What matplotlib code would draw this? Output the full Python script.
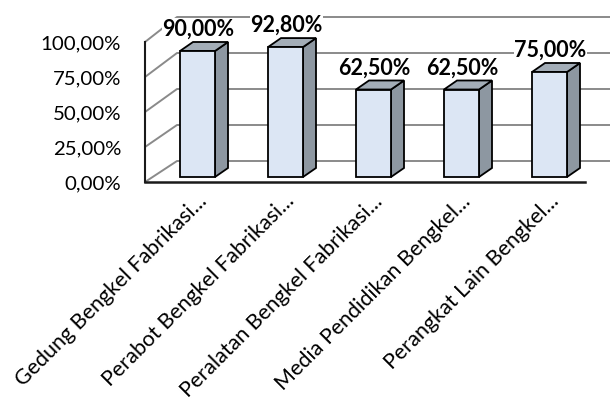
import matplotlib
matplotlib.use("Agg")
import matplotlib.pyplot as plt
from matplotlib.patches import Polygon, Rectangle

categories = ["Gedung Bengkel Fabrikasi...", "Perabot Bengkel Fabrikasi...",
              "Peralatan Bengkel Fabrikasi...", "Media Pendidikan Bengkel...",
              "Perangkat Lain Bengkel..."]
values = [90.00, 92.80, 62.50, 62.50, 75.00]
value_labels = ["90,00%", "92,80%", "62,50%", "62,50%", "75,00%"]
ticks = [0, 25, 50, 75, 100]
tick_labels = ["0,00%", "25,00%", "50,00%", "75,00%", "100,00%"]

W, H = 612, 403
fig = plt.figure(figsize=(W / 100, H / 100), dpi=100)
ax = fig.add_axes([0, 0, 1, 1])

# pixel <-> data mapping (x: category index, y: percent)
PX_X = 88.0      # pixels per category
PX_V = 1.4       # pixels per percent
X0 = 197.5       # pixel x of category 0 centre
V0 = 177.0       # pixel y (from top) of 0 %
def X(px):
    return (px - X0) / PX_X
def V(py):
    return (V0 - py) / PX_V

ax.set_xlim(X(0), X(W))
ax.set_ylim(V(H), V(0))
ax.axis("off")

FONT = ["Lato", "DejaVu Sans"]
grid_c = "#8a8a8a"

# walls / gridlines
front_x, back_x, right_x = X(145), X(177), X(610)
for t in ticks:
    fv = V(182) + t * (35 / 25) / PX_V
    bv = V(161) + t * (36 / 25) / PX_V
    ax.plot([front_x, back_x, right_x], [fv, bv, bv], color=grid_c, lw=1.4,
            zorder=1, solid_capstyle="butt")
# floor front edge and left wall front edge
ax.plot([front_x, X(585)], [V(182), V(182)], color="#1a1a1a", lw=1.8, zorder=2)
ax.plot([front_x, front_x], [V(182), V(182) + 100 * (35 / 25) / PX_V],
        color="#1a1a1a", lw=1.5, zorder=2)

# tick labels
for t, lab in zip(ticks, tick_labels):
    fv = V(182) + t * (35 / 25) / PX_V
    ax.text(X(121), fv - 7.5 / PX_V, lab, ha="right", va="baseline",
            fontsize=14.7, family=FONT, color="#000000", zorder=5)

# bars (oblique 3D look)
half = 17.5 / PX_X
ddx = 13 / PX_X
ddv = 9 / PX_V
front_c, side_c, top_c = "#dce6f4", "#8d97a1", "#a3adb7"
for i, v in enumerate(values):
    x0, x1 = i - half, i + half
    ax.add_patch(Polygon([(x1, 0), (x1 + ddx, ddv), (x1 + ddx, v + ddv), (x1, v)],
                         closed=True, facecolor=side_c, edgecolor="black", lw=1.3, zorder=3))
    ax.add_patch(Polygon([(x0, v), (x0 + ddx, v + ddv), (x1 + ddx, v + ddv), (x1, v)],
                         closed=True, facecolor=top_c, edgecolor="black", lw=1.3, zorder=3))
    ax.add_patch(Rectangle((x0, 0), x1 - x0, v, facecolor=front_c, edgecolor="black",
                           lw=1.3, zorder=4))
    ax.text(i + 1 / PX_X, v + 15 / PX_V, value_labels[i], ha="center", va="baseline",
            fontsize=15.5, fontweight="bold", family=FONT, zorder=6,
            bbox=dict(facecolor="white", edgecolor="none", pad=0.5))

# category labels
for i, c in enumerate(categories):
    ax.text(i - 1 / PX_X, V(191), c, rotation=45, rotation_mode="anchor",
            ha="right", va="top", fontsize=15.5, family=FONT, zorder=5)

fig.savefig("out.png", dpi=100)
